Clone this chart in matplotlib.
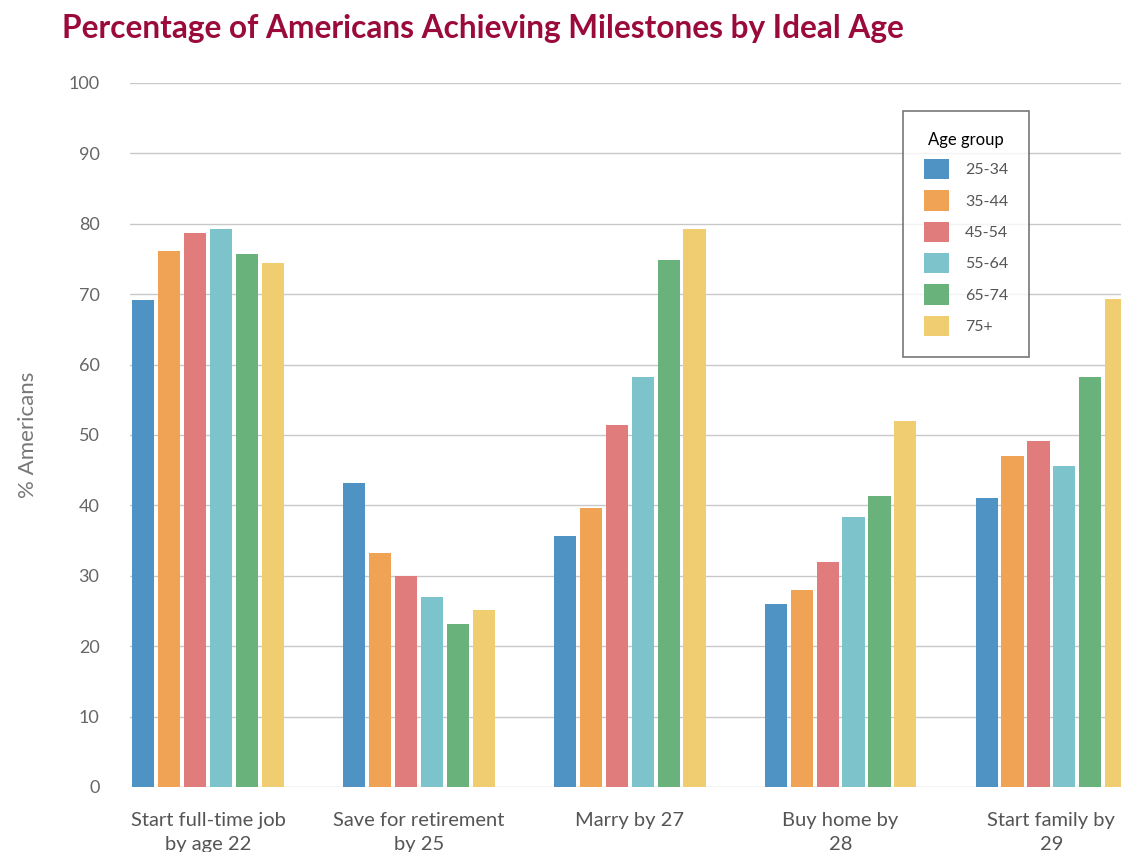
import numpy as np
import matplotlib.pyplot as plt

categories = ["Start full-time job\nby age 22", "Save for retirement\nby 25", "Marry by 27",
              "Buy home by\n28", "Start family by\n29"]
age_groups = ["25-34", "35-44", "45-54", "55-64", "65-74", "75+"]
values_25_34 = [69.2, 43.2, 35.7, 26.0, 41.0]
values_35_44 = [76.1, 33.3, 39.6, 28.0, 47.0]
values_45_54 = [78.7, 30.0, 51.4, 31.9, 49.1]
values_55_64 = [79.3, 27.0, 58.2, 38.3, 45.6]
values_65_74 = [75.7, 23.2, 74.9, 41.4, 58.3]
values_75_up = [74.5, 25.1, 79.3, 52.0, 69.3]
series = [values_25_34, values_35_44, values_45_54, values_55_64, values_65_74, values_75_up]
colors = ["#4f93c4", "#f0a354", "#e07c7c", "#7cc3cc", "#69b27b", "#f0cd70"]

plt.rcParams['font.family'] = ['Lato', 'DejaVu Sans']

fig = plt.figure(figsize=(11.21, 8.52), dpi=100)
ax = fig.add_axes([0.116, 0.0763, 0.884, 0.8263])

x = np.arange(len(categories))
pitch = 0.123
width = 0.105
for i, (vals, col, lab) in enumerate(zip(series, colors, age_groups)):
    ax.bar(x + (i - 2.5) * pitch, vals, width, color=col, label=lab, zorder=3)

ax.set_ylim(0, 100)
ax.set_xlim(-0.37, 4.33)
ax.set_yticks(range(0, 101, 10))
ax.grid(axis='y', color='#c8c8c8', linewidth=1, zorder=0)
for s in ax.spines.values():
    s.set_visible(False)
ax.tick_params(axis='y', length=0, pad=22, labelsize=13, labelcolor='#666666')
ax.tick_params(axis='x', length=0, pad=18, labelsize=14.5, labelcolor='#555555')
ax.set_xticks(x)
ax.set_xticklabels(categories, linespacing=1.5)
ax.set_ylabel("% Americans", fontsize=16, color='#777777', labelpad=22)

leg = ax.legend(title="Age group", loc='upper left', bbox_to_anchor=(0.78, 0.96),
                frameon=True, fancybox=False, edgecolor='#555555', fontsize=11.5,
                title_fontsize=12, handlelength=1.6, handleheight=1.6,
                labelspacing=0.68, borderpad=1.3, handletextpad=1.0, borderaxespad=0)
leg.get_frame().set_linewidth(1.2)
for t in leg.get_texts():
    t.set_color('#555555')

fig.text(0.055, 0.966, "Percentage of Americans Achieving Milestones by Ideal Age",
         fontsize=22.8, fontweight='bold', color='#9a0b3b', va='center')

fig.savefig("out.png", dpi=100)
